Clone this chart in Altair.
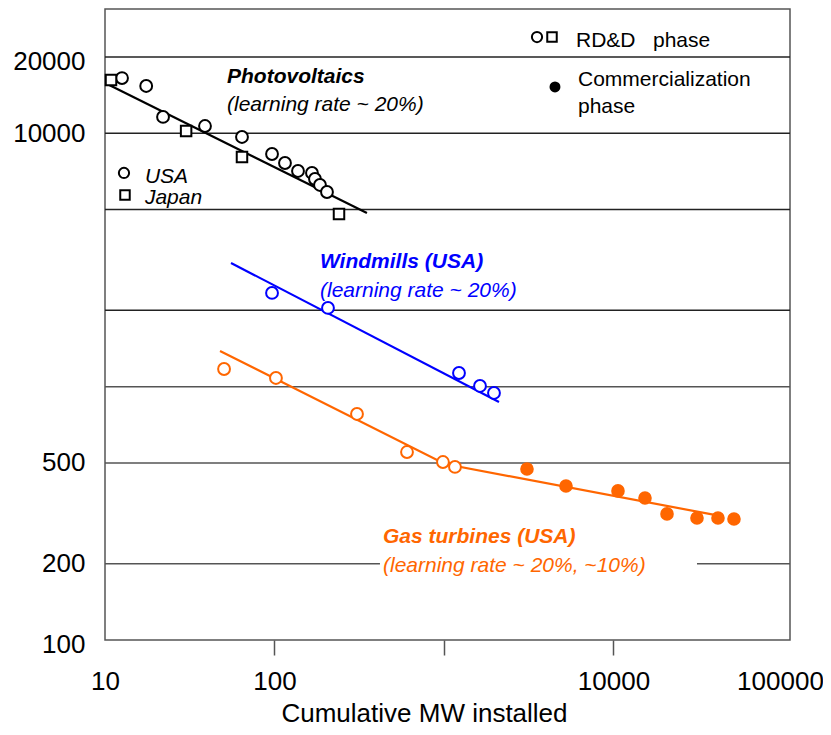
import altair as alt
import pandas as pd

FONT = "Liberation Sans"
ORANGE = "#ff6600"
BLUE = "#0000ff"

# ---------------- data ----------------
pv_usa_x = [12.6, 17.5, 22.0, 38.9, 64.3, 96.7, 115.3, 137.6, 166.4, 173.3, 185.5, 204]
pv_usa_y = [16520, 15370, 11600, 10680, 9670, 8283, 7633, 7099, 6971, 6600, 6251, 5865]
pv_jp_x = [10.85, 30.1, 64.3, 240.2]
pv_jp_y = [16230, 10210, 8060, 4800]
pv_fit_x = [10.3, 351]
pv_fit_y = [15650, 4845]

wind_x = [96.7, 206.8, 1226, 1631, 1972]
wind_y = [2343, 2045, 1132, 1006, 944]
wind_fit_x = [55.4, 2111]
wind_fit_y = [3077, 870]

gas_rdd_x = [50.4, 102, 306.7, 605, 986, 1161]
gas_rdd_y = [1174, 1082, 780, 552, 504, 482]
gas_com_x = [3088, 5246, 10630, 15340, 20690, 31090, 41350, 51390]
gas_com_y = [473, 405.5, 387.6, 363.6, 314.5, 303, 303, 300.4]
gas_fit_x = [47.7, 1014, 42500]
gas_fit_y = [1383, 495, 308.8]

grid_dark = [20000, 10000, 5000, 2000]
grid_gray = [1000, 500]
grid_200_x = [10, 31090]
grid_200_x2 = [419, 110000]

x_ticks = [10, 100, 1000, 10000, 100000]
y_ticks = [100, 200, 500, 10000, 20000]

# annotation texts (x, y in data units)
ann_text = ["Photovoltaics", "(learning rate ~ 20%)", "USA", "Japan",
            "Windmills (USA)", "(learning rate ~ 20%)",
            "Gas turbines (USA)", "(learning rate ~ 20%, ~10%)",
            "RD&D\u00a0\u00a0\u00a0phase", "Commercialization", "phase"]
ann_x = [52.47, 52.47, 17.2, 17.2, 185.5, 185.5, 436.7, 436.7, 6008, 6174, 6174]
ann_y = [15790, 12240, 6365, 5259, 2940, 2259, 241.6, 185.6, 21900, 15370, 12020]
ann_color = ["black", "black", "black", "black", BLUE, BLUE, ORANGE, ORANGE, "black", "black", "black"]
ann_weight = ["bold", "normal", "normal", "normal", "bold", "normal", "bold", "normal", "normal", "normal", "normal"]
ann_style = ["italic", "italic", "italic", "italic", "italic", "italic", "italic", "italic", "normal", "normal", "normal"]

# legend/key icons
key_circle_x = [12.94, 3538]
key_circle_y = [6971, 23980]
key_square_x = [13.12, 4337]
key_square_y = [5706, 23980]
key_filled_x = [4517]
key_filled_y = [15230]

# ---------------- scales ----------------
xs = alt.Scale(type="log", domain=[10, 110000], nice=False)
ys = alt.Scale(type="log", domain=[100, 30940], nice=False)

x_axis = alt.Axis(
    values=x_ticks,
    labelExpr="datum.value == 1000 ? '' : format(datum.value, 'd')",
    grid=False, domain=False, labelFlush=False, labelOverlap=False,
    tickSize=15, tickColor="#555", tickWidth=1.5,
    tickOpacity={"condition": {"test": "datum.value == 10 || datum.value == 100000", "value": 0}, "value": 1},
    labelOffset={"condition": {"test": "datum.value == 100000", "value": -3}, "value": 0},
    labelFontSize=26, labelColor="black", labelPadding=13, labelFont=FONT,
    title="Cumulative MW installed", titleFontSize=26, titleFontWeight="normal",
    titleColor="black", titleFont=FONT, titleX=319, titleY=81,
    titleAlign="center", titleBaseline="alphabetic",
)
y_axis = alt.Axis(
    values=y_ticks,
    labelExpr="format(datum.value, 'd')",
    grid=False, domain=False, ticks=False, labelFlush=False, labelOverlap=False,
    labelOffset={"condition": {"test": "datum.value == 20000 || datum.value == 100", "value": 4}, "value": 0},
    labelFontSize=26, labelColor="black", labelPadding=20, labelFont=FONT,
    title=None,
)

# ---------------- gridlines ----------------
g_dark = alt.Chart(pd.DataFrame({"y": grid_dark})).mark_rule(color="#222", strokeWidth=1.5).encode(
    y=alt.Y("y:Q", scale=ys, axis=y_axis))
g_gray = alt.Chart(pd.DataFrame({"y": grid_gray})).mark_rule(color="#555", strokeWidth=1.5).encode(
    y=alt.Y("y:Q", scale=ys))
g_200 = alt.Chart(pd.DataFrame({"x": grid_200_x, "x2": grid_200_x2, "y": [200, 200]})).mark_rule(
    color="#555", strokeWidth=1.5).encode(
    x=alt.X("x:Q", scale=xs, axis=x_axis), x2="x2:Q", y=alt.Y("y:Q", scale=ys))

# ---------------- fit lines ----------------
def fit(xv, yv, color):
    return alt.Chart(pd.DataFrame({"x": xv, "y": yv, "o": list(range(len(xv)))})).mark_line(
        color=color, strokeWidth=2.2).encode(
        x=alt.X("x:Q", scale=xs), y=alt.Y("y:Q", scale=ys), order="o:Q")

pv_line = fit(pv_fit_x, pv_fit_y, "black")
wind_line = fit(wind_fit_x, wind_fit_y, BLUE)
gas_line = fit(gas_fit_x, gas_fit_y, ORANGE)

# ---------------- points ----------------
def pts(xv, yv, color, shape="circle", filled=False, size=140):
    return alt.Chart(pd.DataFrame({"x": xv, "y": yv})).mark_point(
        shape=shape, filled=filled, color=color, size=size, strokeWidth=2,
        opacity=1, fill=color if filled else "white", fillOpacity=1).encode(
        x=alt.X("x:Q", scale=xs), y=alt.Y("y:Q", scale=ys))

pv_usa = pts(pv_usa_x, pv_usa_y, "black")
pv_jp = pts(pv_jp_x, pv_jp_y, "black", shape="square", size=110)
wind_pts = pts(wind_x, wind_y, BLUE)
gas_rdd = pts(gas_rdd_x, gas_rdd_y, ORANGE)
gas_com = pts(gas_com_x, gas_com_y, ORANGE, filled=True, size=185)

key_c = pts(key_circle_x, key_circle_y, "black", size=105)
key_s = pts(key_square_x, key_square_y, "black", shape="square", size=90)
key_f = pts(key_filled_x, key_filled_y, "black", filled=True, size=120)

# ---------------- annotations ----------------
ann_df = pd.DataFrame({"x": ann_x, "y": ann_y, "t": ann_text, "c": ann_color,
                       "w": ann_weight, "s": ann_style})
texts = []
for w in ["bold", "normal"]:
    for s in ["italic", "normal"]:
        sub = ann_df[(ann_df.w == w) & (ann_df.s == s)]
        if len(sub) == 0:
            continue
        texts.append(alt.Chart(sub).mark_text(
            align="left", baseline="alphabetic", fontSize=21, font=FONT,
            fontWeight=w, fontStyle=s).encode(
            x=alt.X("x:Q", scale=xs), y=alt.Y("y:Q", scale=ys), text="t:N",
            color=alt.Color("c:N", scale=None)))

chart = alt.layer(
    g_200, g_dark, g_gray,
    pv_line, wind_line, gas_line,
    pv_usa, pv_jp, wind_pts, gas_rdd, gas_com,
    key_c, key_s, key_f,
    *texts,
).properties(
    width=685, height=631,
    autosize=alt.AutoSizeParams(type="none"),
    padding={"left": 97, "top": 1, "right": 33, "bottom": 87},
).configure(
    font=FONT,
    view=alt.ViewConfig(stroke="#555", strokeWidth=1.5),
)

chart.save("out.html", embed_options={"renderer": "svg", "actions": False})
